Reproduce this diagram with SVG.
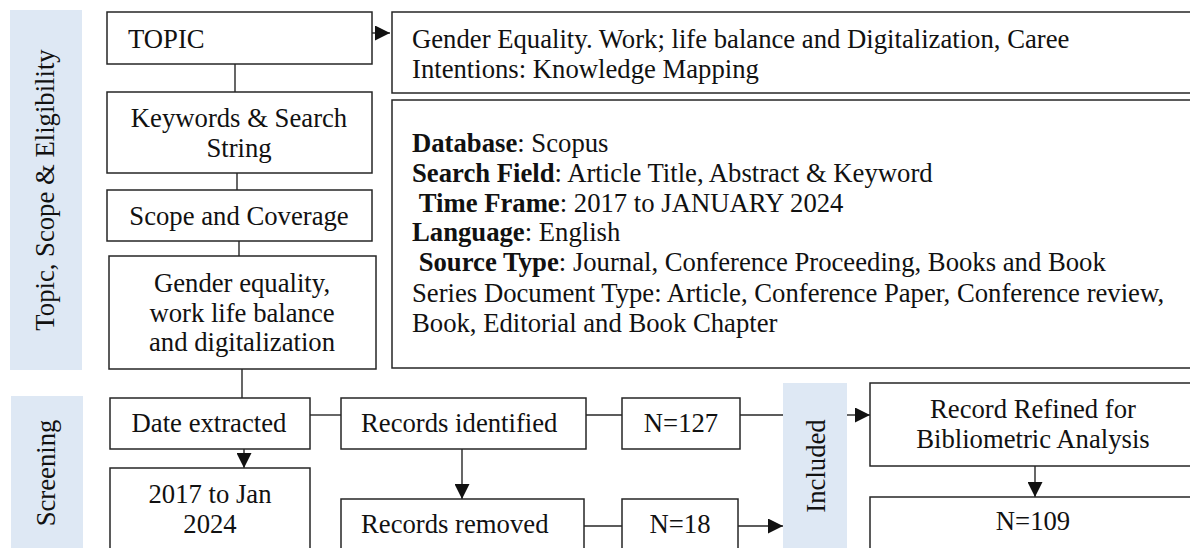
<svg xmlns="http://www.w3.org/2000/svg" width="1190" height="548" viewBox="0 0 1190 548">
<defs>
<style>
.box{fill:#fff;stroke:#262626;stroke-width:1.5}
.band{fill:#dee8f4}
.t{font-family:"Liberation Serif","Times New Roman",serif;font-size:26.7px;fill:#111}
.m{text-anchor:middle}
.b{font-weight:bold}
.ln{stroke:#262626;stroke-width:1.4;fill:none}
</style>
<marker id="ah" viewBox="0 0 10 10" refX="10" refY="5" markerUnits="userSpaceOnUse" markerWidth="16" markerHeight="15" orient="auto">
<path d="M0,0 L10,5 L0,10 z" fill="#111"/>
</marker>
</defs>
<rect width="1190" height="548" fill="#fff"/>

<g id="band-topic">
<rect class="band" x="10" y="10" width="72" height="360"/>
<text class="t m" transform="translate(54,190) rotate(-90)">Topic, Scope &amp; Eligibility</text>
</g>
<g id="band-screening">
<rect class="band" x="11" y="396" width="72" height="160"/>
<text class="t m" transform="translate(55,473) rotate(-90)">Screening</text>
</g>
<g id="band-included">
<rect class="band" x="783" y="383" width="64" height="170"/>
<text class="t m" transform="translate(825,466) rotate(-90)">Included</text>
</g>

<g id="connectors">
<line class="ln" x1="372" y1="33" x2="390" y2="33" marker-end="url(#ah)"/>
<line class="ln" x1="235" y1="64" x2="235" y2="92"/>
<line class="ln" x1="237" y1="173" x2="237" y2="190"/>
<line class="ln" x1="239" y1="241" x2="239" y2="256"/>
<line class="ln" x1="242" y1="369" x2="242" y2="398"/>
<line class="ln" x1="310" y1="415" x2="341" y2="415"/>
<line class="ln" x1="244" y1="449" x2="244" y2="468" marker-end="url(#ah)"/>
<line class="ln" x1="586" y1="415" x2="622" y2="415"/>
<line class="ln" x1="462" y1="449" x2="462" y2="499" marker-end="url(#ah)"/>
<line class="ln" x1="740" y1="415" x2="783" y2="415"/>
<line class="ln" x1="847" y1="415" x2="870" y2="415" marker-end="url(#ah)"/>
<line class="ln" x1="584" y1="526" x2="622" y2="526"/>
<line class="ln" x1="738" y1="526" x2="783" y2="526" marker-end="url(#ah)"/>
<line class="ln" x1="1035" y1="466" x2="1035" y2="497" marker-end="url(#ah)"/>
</g>

<g id="topic">
<rect class="box" x="107" y="12" width="265" height="52"/>
<text class="t" x="128" y="48">TOPIC</text>
</g>
<g id="topic-detail">
<rect class="box" x="392" y="12" width="810" height="81"/>
<text class="t" x="412" y="48">Gender Equality. Work; life balance and Digitalization, Caree</text>
<text class="t" x="412" y="78">Intentions: Knowledge Mapping</text>
</g>
<g id="keywords">
<rect class="box" x="107" y="92" width="265" height="81"/>
<text class="t m" x="239" y="127">Keywords &amp; Search</text>
<text class="t m" x="239" y="157">String</text>
</g>
<g id="search-detail">
<rect class="box" x="392" y="100" width="810" height="268"/>
<text class="t" x="412" y="152"><tspan class="b">Database</tspan>: Scopus</text>
<text class="t" x="412" y="182"><tspan class="b">Search Field</tspan>: Article Title, Abstract &amp; Keyword</text>
<text class="t" x="412" y="212" xml:space="preserve"> <tspan class="b">Time Frame</tspan>: 2017 to JANUARY 2024</text>
<text class="t" x="412" y="241"><tspan class="b">Language</tspan>: English</text>
<text class="t" x="412" y="271" xml:space="preserve"> <tspan class="b">Source Type</tspan>: Journal, Conference Proceeding, Books and Book</text>
<text class="t" x="412" y="302">Series Document Type: Article, Conference Paper, Conference review,</text>
<text class="t" x="412" y="332">Book, Editorial and Book Chapter</text>
</g>
<g id="scope">
<rect class="box" x="107" y="190" width="265" height="51"/>
<text class="t m" x="239" y="225">Scope and Coverage</text>
</g>
<g id="gender">
<rect class="box" x="109" y="256" width="267" height="113"/>
<text class="t m" x="242" y="292">Gender equality,</text>
<text class="t m" x="242" y="322">work life balance</text>
<text class="t m" x="242" y="351">and digitalization</text>
</g>
<g id="date-extracted">
<rect class="box" x="110" y="398" width="200" height="51"/>
<text class="t m" x="209" y="432">Date extracted</text>
</g>
<g id="date-range">
<rect class="box" x="110" y="468" width="200" height="90"/>
<text class="t m" x="210" y="503">2017 to Jan</text>
<text class="t m" x="210" y="533">2024</text>
</g>
<g id="records-identified">
<rect class="box" x="341" y="398" width="245" height="51"/>
<text class="t" x="361" y="432">Records identified</text>
</g>
<g id="n127">
<rect class="box" x="622" y="398" width="118" height="51"/>
<text class="t m" x="681" y="432">N=127</text>
</g>
<g id="records-removed">
<rect class="box" x="341" y="499" width="243" height="60"/>
<text class="t" x="361" y="533">Records removed</text>
</g>
<g id="n18">
<rect class="box" x="622" y="499" width="116" height="60"/>
<text class="t m" x="680" y="533">N=18</text>
</g>
<g id="record-refined">
<rect class="box" x="870" y="383" width="330" height="83"/>
<text class="t m" x="1033" y="418">Record Refined for</text>
<text class="t m" x="1033" y="448">Bibliometric Analysis</text>
</g>
<g id="n109">
<rect class="box" x="870" y="497" width="330" height="60"/>
<text class="t m" x="1033" y="530">N=109</text>
</g>
</svg>
